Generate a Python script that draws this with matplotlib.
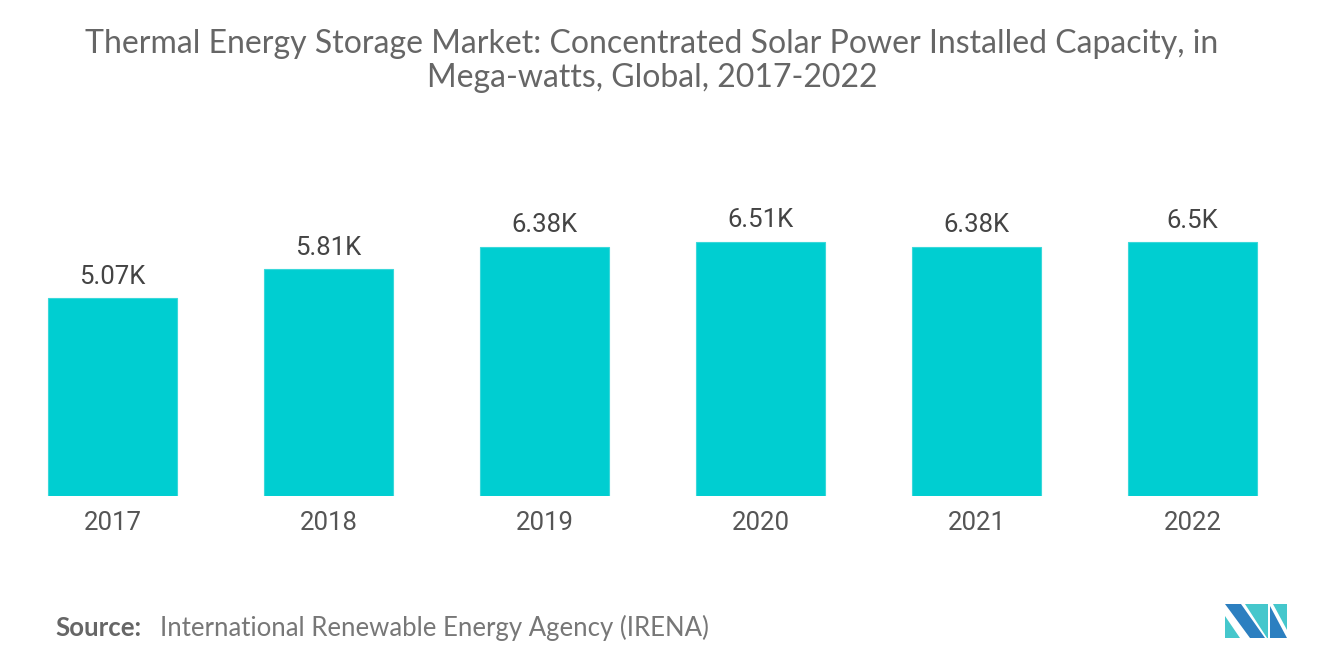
import matplotlib
matplotlib.use("Agg")
import matplotlib.pyplot as plt
from matplotlib.patches import Polygon

years = ["2017", "2018", "2019", "2020", "2021", "2022"]
values = [5070, 5810, 6380, 6510, 6380, 6500]
value_labels = ["5.07K", "5.81K", "6.38K", "6.51K", "6.38K", "6.5K"]

W, H = 1320, 665
fig = plt.figure(figsize=(W / 100, H / 100), dpi=100)
fig.patch.set_facecolor("white")

ax_left = 4.5 / W
ax_w = 1296 / W
ax_bottom = (H - 496) / H
ax_h = 312 / H
ax = fig.add_axes([ax_left, ax_bottom, ax_w, ax_h])
x = list(range(len(years)))
ax.bar(x, values, width=0.6, color="#00CED1", edgecolor="#3AD8DA", linewidth=0.8)
ax.set_xlim(-0.5, len(years) - 0.5)
ax.set_ylim(0, 8000)
for s in ax.spines.values():
    s.set_visible(False)
ax.set_yticks([])
ax.set_xticks(x)
ax.set_xticklabels(years, fontfamily="Roboto", fontsize=18.5, color="#555555")
ax.tick_params(axis="x", length=0, pad=11)
for xi, v, lab in zip(x, values, value_labels):
    ax.annotate(lab, (xi, v), xytext=(0, 7), textcoords="offset points",
                ha="center", va="bottom", fontfamily="Roboto", fontsize=18.5,
                color="#444444", clip_on=False)

fig.text(652 / W, 1 - 61 / H,
         "Thermal Energy Storage Market: Concentrated Solar Power Installed Capacity, in\nMega-watts, Global, 2017-2022",
         ha="center", va="center", fontfamily="Lato", fontsize=23, color="#666666",
         linespacing=1.15)

fig.text(55 / W, 1 - 628 / H, "Source:", ha="left", va="center", fontfamily="Lato",
         fontweight="bold", fontsize=18.5, color="#666666")
fig.text(160 / W, 1 - 628 / H, "International Renewable Energy Agency (IRENA)",
         ha="left", va="center", fontfamily="Lato", fontsize=18.5, color="#777777")

def px(pts):
    return [(a / W, 1 - b / H) for a, b in pts]

dark = "#2C7FC0"
light = "#45C7CC"
logo = [
    (px([(1225, 604), (1241, 604), (1265, 638), (1250, 638)]), dark),
    (px([(1225, 616), (1225, 638), (1240, 638)]), light),
    (px([(1245, 604), (1268, 604), (1268, 638), (1267, 638)]), light),
    (px([(1270, 606), (1287, 638), (1270, 638)]), dark),
    (px([(1273, 604), (1287, 604), (1287, 630)]), light),
]
for pts, c in logo:
    fig.patches.append(Polygon(pts, closed=True, transform=fig.transFigure,
                               facecolor=c, edgecolor="none"))

fig.savefig("out.png", dpi=100)
